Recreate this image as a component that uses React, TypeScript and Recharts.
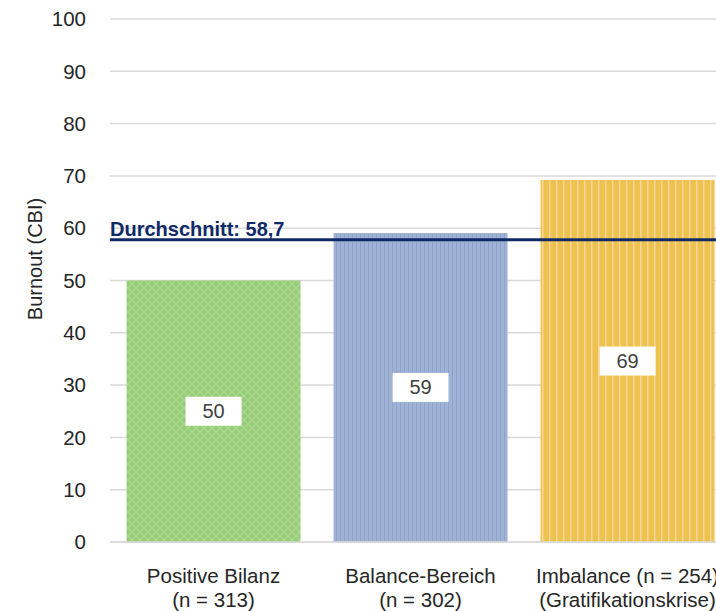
import { BarChart, Bar, XAxis, YAxis, CartesianGrid, ReferenceLine, LabelList, Cell } from 'recharts';

const categories = ['Positive Bilanz|(n = 313)', 'Balance-Bereich|(n = 302)', 'Imbalance (n = 254)|(Gratifikationskrise)'];
const burnout = [50, 59.1, 69.2];
const patternIds = ['pat-green', 'pat-blue', 'pat-orange'];
const yTicks = [0, 10, 20, 30, 40, 50, 60, 70, 80, 90, 100];
const averageLine = 57.8;
const averageText = 'Durchschnitt: 58,7';
const yTitle = 'Burnout (CBI)';

const data = categories.map((name, i) => ({ name, value: burnout[i] }));

const FONT = '"Liberation Sans", Arial, sans-serif';

function CategoryTick(props: any) {
  const { x, y, payload } = props;
  const [line1, line2] = String(payload.value).split('|');
  return (
    <text x={x} y={y} textAnchor="middle" fontSize={20.5} fontFamily={FONT} fill="#262626">
      <tspan x={x} dy={39}>{line1}</tspan>
      <tspan x={x} dy={24}>{line2}</tspan>
    </text>
  );
}

function ValueBox(props: any) {
  const { x, y, width, height, value } = props;
  const cx = x + width / 2;
  const cy = y + height / 2;
  return (
    <g>
      <rect x={cx - 28} y={cy - 14.5} width={56} height={29} fill="#ffffff" />
      <text x={cx} y={cy} textAnchor="middle" dominantBaseline="central" fontSize={20} fontFamily={FONT} fill="#404040">
        {Math.round(value)}
      </text>
    </g>
  );
}

function AverageLabel(props: any) {
  const { viewBox } = props;
  return (
    <text x={viewBox.x} y={viewBox.y - 4} fontSize={20} fontWeight="bold" fontFamily={FONT} fill="#0f2a66">
      {averageText}
    </text>
  );
}

const renderYTitle = () => (
  <text x={35} y={259} transform="rotate(-90 35 259)" textAnchor="middle" dominantBaseline="central" fontSize={20} fontFamily={FONT} fill="#262626">
    {yTitle}
  </text>
);

export default function App() {
  return (
    <div style={{ position: 'absolute', left: 0, top: 0, width: 716, height: 611, overflow: 'hidden', background: '#fff' }}>
      <BarChart
        width={740}
        height={611}
        data={data}
        margin={{ top: 19, right: 9, left: 0, bottom: 0 }}
        barCategoryGap="8%"
      >
        <defs>
          <pattern id="pat-green" width={8} height={8} patternUnits="userSpaceOnUse">
            <rect width={8} height={8} fill="#95cc74" />
            <path d="M0,0 L8,8 M8,0 L0,8" stroke="#abd891" strokeWidth={1.5} />
          </pattern>
          <pattern id="pat-blue" width={4} height={4} patternUnits="userSpaceOnUse">
            <rect width={4} height={4} fill="#a0b2d6" />
            <rect width={1} height={4} fill="#8fa2c8" />
          </pattern>
          <pattern id="pat-orange" width={7} height={7} patternUnits="userSpaceOnUse">
            <rect width={7} height={7} fill="#efc24e" />
            <rect x={3} width={1.5} height={7} fill="#f6d69b" />
          </pattern>
        </defs>
        <CartesianGrid vertical={false} stroke="#d9d9d9" strokeWidth={1.5} />
        <XAxis
          dataKey="name"
          height={69}
          tickLine={false}
          tickSize={0}
          axisLine={{ stroke: '#d9d9d9', strokeWidth: 1.5 }}
          tick={<CategoryTick />}
          interval={0}
        />
        <YAxis
          width={110}
          domain={[0, 100]}
          ticks={yTicks}
          axisLine={false}
          tickLine={false}
          tickSize={0}
          tickMargin={24}
          tick={{ fontSize: 20.5, fontFamily: FONT, fill: '#262626' }}
          label={renderYTitle}
        />
        <Bar dataKey="value" isAnimationActive={false}>
          {data.map((_, i) => (
            <Cell key={i} fill={`url(#${patternIds[i]})`} />
          ))}
          <LabelList dataKey="value" content={<ValueBox />} />
        </Bar>
        <ReferenceLine y={averageLine} stroke="#0f2a66" strokeWidth={3} label={<AverageLabel />} />
      </BarChart>
    </div>
  );
}
